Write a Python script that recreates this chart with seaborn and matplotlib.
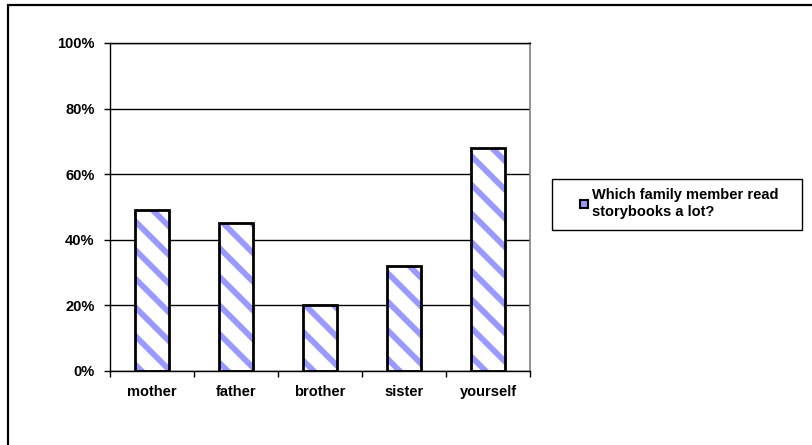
import matplotlib.pyplot as plt
import matplotlib.patches as mpatches
from matplotlib.ticker import FixedLocator
import seaborn as sns

# Values (percent of respondents)
members = ["mother", "father", "brother", "sister", "yourself"]
shares = [49, 45, 20, 32, 68]
y_ticks = [0, 20, 40, 60, 80, 100]
series_label = "Which family member read\nstorybooks a lot?"

# a lower dpi makes the hatch stripes denser, like the original
DPI = 86
k = 100 / DPI

sns.set_style("white")
plt.rcParams['font.family'] = ['Liberation Sans', 'DejaVu Sans']
plt.rcParams['font.weight'] = 'bold'
plt.rcParams['font.size'] = 10.5 * k
plt.rcParams['text.color'] = 'black'
plt.rcParams['xtick.color'] = 'black'
plt.rcParams['ytick.color'] = 'black'
plt.rcParams['hatch.linewidth'] = 4.2 * k

fig = plt.figure(figsize=(812 / DPI, 445 / DPI), dpi=DPI)
ax = fig.add_axes([110 / 812, 74 / 445, 420 / 812, 328 / 445])

# hatched fill first, then the black outline on top
sns.barplot(x=members, y=shares, color='white', width=0.4, ax=ax)
for p in ax.patches:
    p.set_hatch('\\')
    p.set_edgecolor('#9999FF')
    p.set_linewidth(0)
sns.barplot(x=members, y=shares, color='black', fill=False, width=0.4,
            linewidth=2 * k, ax=ax)

ax.set_ylim(0, 100)
ax.set_xlim(-0.5, len(members) - 0.5)
ax.set_yticks(y_ticks)
ax.set_yticklabels([f"{v}%" for v in y_ticks])
ax.grid(axis='y', color='black', linewidth=1 * k)
ax.set_axisbelow(True)
ax.xaxis.set_minor_locator(FixedLocator([i - 0.5 for i in range(len(members) + 1)]))
ax.tick_params(axis='x', which='major', length=0, pad=10 * k)
ax.tick_params(axis='x', which='minor', direction='out', length=4 * k,
               width=1 * k, color='black', bottom=True)
ax.tick_params(axis='y', direction='out', length=4 * k, width=1 * k,
               color='black', left=True, pad=7 * k)
ax.set_xlabel('')
ax.set_ylabel('')

for side in ['left', 'bottom', 'top']:
    ax.spines[side].set_color('black')
    ax.spines[side].set_linewidth(1 * k)
ax.spines['right'].set_color('#808080')
ax.spines['right'].set_linewidth(1.2 * k)

# legend box
fig.add_artist(mpatches.Rectangle((552 / 812, (445 - 230) / 445), 250 / 812, 51 / 445,
                                  transform=fig.transFigure, fill=False,
                                  edgecolor='black', linewidth=1 * k))
handle = mpatches.Patch(facecolor='#9999FF', edgecolor='black', linewidth=1.5 * k)
leg = fig.legend([handle], [series_label], loc='upper left',
                 bbox_to_anchor=(580 / 812, (445 - 188) / 445), frameon=False,
                 borderpad=0, borderaxespad=0, handlelength=0.55,
                 handleheight=0.55, handletextpad=0.3,
                 prop={'weight': 'bold', 'size': 10.5 * k})
for t in leg.get_texts():
    t.set_linespacing(1.3)

# outer chart border (right and bottom edges lie outside the picture)
fig.add_artist(mpatches.Rectangle((8 / 812, -0.1), 1.0, (445 - 5) / 445 + 0.1,
                                  transform=fig.transFigure, fill=False,
                                  edgecolor='black', linewidth=1.6 * k))

plt.savefig("out.png", dpi=DPI)
